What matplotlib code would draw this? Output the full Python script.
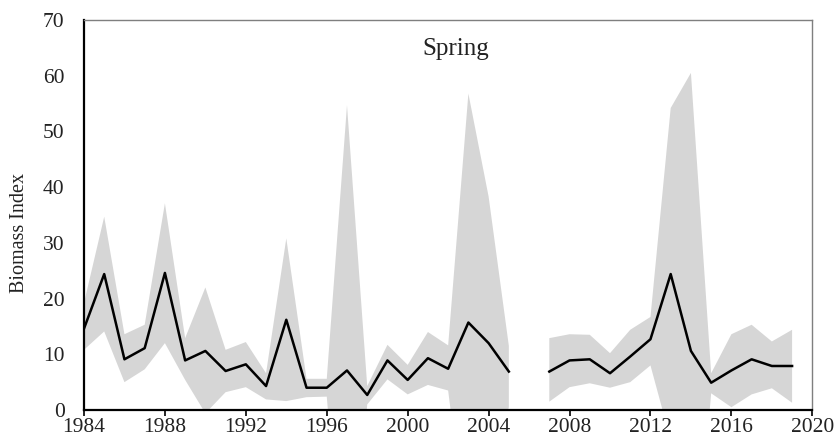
"""Spring biomass index with confidence band."""

import matplotlib

matplotlib.use("Agg")

import matplotlib.pyplot as plt
import numpy as np

years = np.arange(1984, 2020)

# 2006 has no survey value -> NaN breaks both line and band
biomass_mean = [
    14.6, 24.4, 9.1, 11.1, 24.6, 8.9, 10.6, 7.0, 8.2, 4.3,
    16.2, 4.0, 4.0, 7.1, 2.7, 8.9, 5.4, 9.3, 7.4, 15.7,
    12.0, 6.9, np.nan, 6.9, 8.9, 9.1, 6.6, 9.6, 12.7, 24.4,
    10.6, 4.9, 7.1, 9.1, 7.9, 7.9,
]
upper_ci = [
    19.2, 34.7, 13.6, 15.3, 37.1, 12.9, 22.0, 10.8, 12.2, 6.6,
    30.8, 5.6, 5.6, 54.7, 4.3, 11.7, 8.1, 14.0, 11.6, 56.8,
    38.3, 11.5, np.nan, 12.9, 13.6, 13.5, 10.2, 14.4, 16.7, 54.2,
    60.5, 6.6, 13.6, 15.3, 12.3, 14.4,
]
lower_ci = [
    10.8, 14.1, 5.0, 7.3, 12.0, 5.4, -0.6, 3.2, 4.1, 1.9,
    1.6, 2.3, 2.4, -40.5, 1.0, 5.5, 2.8, 4.5, 3.5, -25.4,
    -14.3, 0.5, np.nan, 1.5, 4.1, 4.8, 4.0, 5.0, 8.0, -5.4,
    -39.3, 3.0, 0.5, 2.8, 3.9, 1.3,
]
x_ticks = list(range(1984, 2021, 4))
y_ticks = list(range(0, 71, 10))

FONT = "Liberation Serif"

fig = plt.figure(figsize=(8.39, 4.46), dpi=100)
ax = fig.add_axes([0.1001, 0.0807, 0.8681, 0.8745])

ax.fill_between(years, lower_ci, upper_ci, color="#d6d6d6", lw=0, zorder=1)
ax.plot(years, biomass_mean, color="black", lw=1.8, zorder=2)

ax.set_xlim(1984, 2020)
ax.set_ylim(0, 70)
ax.set_xticks(x_ticks)
ax.set_yticks(y_ticks)
ax.tick_params(axis="x", direction="out", length=4.5, width=1.2, pad=1.5,
               labelsize=15.5, colors="black")
ax.tick_params(axis="y", length=0, pad=14, labelsize=15.5)
for label in ax.get_xticklabels() + ax.get_yticklabels():
    label.set_family(FONT)
    label.set_color("#222222")

for side in ("left", "bottom"):
    ax.spines[side].set_color("black")
    ax.spines[side].set_linewidth(1.6)
for side in ("top", "right"):
    ax.spines[side].set_color("#7f7f7f")
    ax.spines[side].set_linewidth(1.0)

ax.set_ylabel("Biomass Index", family=FONT, fontsize=14.5, color="#222222")
ax.yaxis.set_label_coords(-0.075, 0.454)

ax.text(0.51, 0.925, "Spring", transform=ax.transAxes, ha="center", va="center",
        family=FONT, fontsize=18, color="#222222")

fig.savefig("out.png", dpi=100)
plt.close(fig)
